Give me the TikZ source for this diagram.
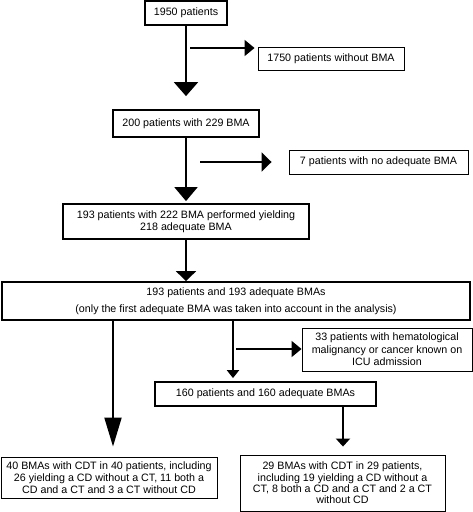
\documentclass[tikz,border=0pt]{standalone}
\usepackage{fontspec}
\setmainfont{Liberation Sans}
\usetikzlibrary{arrows.meta}
\begin{document}
\begin{tikzpicture}[x=1pt,y=-1pt,
  txt/.style={font=\fontsize{10.7}{11.8}\selectfont, align=center, inner sep=0pt},
  thickbox/.style={txt, draw, line width=1.8pt},
  thinbox/.style={txt, draw, line width=0.9pt},
  varr/.style={line width=2pt},
  sarr/.style={line width=1.8pt}]
\useasboundingbox (0,0) rectangle (473,512);
% boxes
\node[thickbox, minimum width=82pt, minimum height=24pt] (b1) at (186,13) {1950 patients};
\node[thinbox, minimum width=146pt, minimum height=23pt] (b2) at (331,58.5) {1750 patients without BMA};
\node[thickbox, minimum width=146pt, minimum height=27pt] (b3) at (186,123.5) {200 patients with 229 BMA};
\node[thinbox, minimum width=179pt, minimum height=24pt] (b4) at (378.5,162) {7 patients with no adequate BMA};
\node[thickbox, minimum width=246pt, minimum height=35pt] (b5) at (186,221.5) {193 patients with 222 BMA performed yielding\\218 adequate BMA};
\node[thickbox, minimum width=468pt, minimum height=38pt, font=\fontsize{10.7}{16.5}\selectfont] (b6) at (236,301) {193 patients and 193 adequate BMAs\\(only the first adequate BMA was taken into account in the analysis)};
\node[thinbox, minimum width=170pt, minimum height=43pt, font=\fontsize{10.7}{12.5}\selectfont] (b7) at (387,349.5) {33 patients with hematological\\malignancy or cancer known on\\ICU admission};
\node[thickbox, minimum width=221pt, minimum height=24pt] (b8) at (265.5,394) {160 patients and 160 adequate BMAs};
\node[thinbox, minimum width=216pt, minimum height=41pt] (b9) at (109,477.5) {40 BMAs with CDT in 40 patients, including\\26 yielding a CD without a CT, 11 both a\\CD and a CT and 3 a CT without CD};
\node[thinbox, minimum width=205pt, minimum height=56pt, font=\fontsize{10.7}{11.4}\selectfont] (b10) at (342.5,483) {29 BMAs with CDT in 29 patients,\\including 19 yielding a CD without a\\CT, 8 both a CD and a CT and 2 a CT\\without CD};
% coordinates
\coordinate (s1) at (190,48);
\coordinate (s2) at (200,162);
\coordinate (s3) at (236,349);
\coordinate (c4) at (233,320);
\coordinate (c5) at (113,320);
\coordinate (c6) at (343,406);
% vertical arrows
\draw[varr, -{Triangle[length=14pt,width=24pt]}, shorten >=13pt] (b1.south) -- (b1.south |- b3.north);
\draw[varr, -{Triangle[length=14pt,width=23pt]}, shorten >=2pt] (b3.south) -- (b3.south |- b5.north);
\draw[varr, -{Triangle[length=10pt,width=20pt]}] (b5.south) -- (b5.south |- b6.north);
\draw[varr, -{Triangle[length=8pt,width=12pt]}, shorten >=3pt] (c4) -- (c4 |- b8.north);
\draw[varr, -{Triangle[length=29pt,width=17pt]}, shorten >=10pt] (c5) -- (c5 |- b9.north);
\draw[varr, -{Triangle[length=8pt,width=14pt]}, shorten >=8pt] (c6) -- (c6 |- b10.north);
% side arrows
\draw[sarr, -{Triangle[length=10pt,width=16pt]}, shorten >=3pt] (s1) -- (s1 -| b2.west);
\draw[sarr, -{Triangle[length=10pt,width=19pt]}, shorten >=17pt] (s2) -- (s2 -| b4.west);
\draw[sarr, -{Triangle[length=10pt,width=16pt]}] (s3) -- (s3 -| b7.west);
\end{tikzpicture}
\end{document}
